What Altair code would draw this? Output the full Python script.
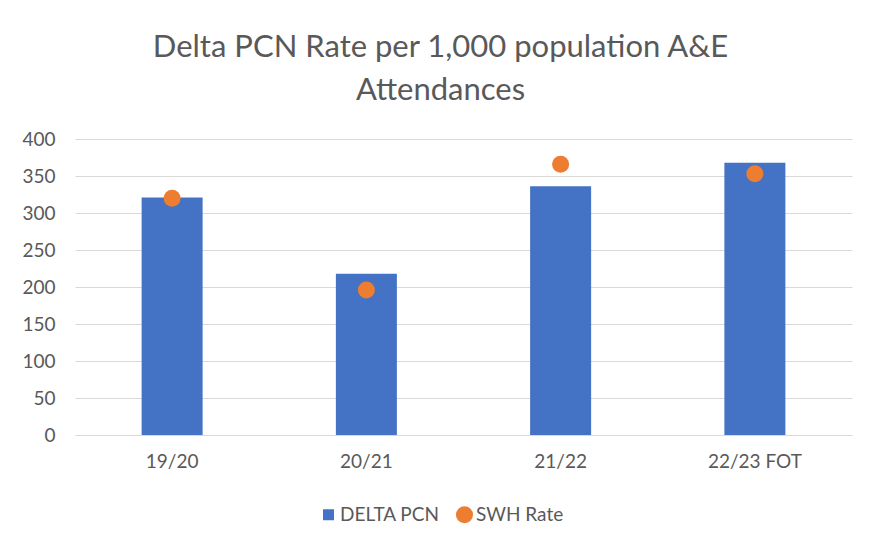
import altair as alt
import pandas as pd

categories = ["19/20", "20/21", "21/22", "22/23 FOT"]
delta_pcn = [321, 218, 336, 368]
swh_rate = [320, 196, 366, 353]
series = ["DELTA PCN", "SWH Rate"]

rows = []
for c, v in zip(categories, delta_pcn):
    rows.append({"period": c, "series": series[0], "value": v})
for c, v in zip(categories, swh_rate):
    rows.append({"period": c, "series": series[1], "value": v})
df = pd.DataFrame(rows)

FONT = "Lato"
GREY = "#595959"

color = alt.Color("series:N", title=None,
                  scale=alt.Scale(domain=series, range=["#4472C4", "#ED7D31"]),
                  legend=alt.Legend(orient="none", legendX=244, legendY=366,
                                    direction="horizontal", columnPadding=15,
                                    labelFontSize=19, labelColor=GREY, labelFont=FONT,
                                    symbolStrokeWidth=0, symbolOpacity=1, labelOffset=2))
shape = alt.Shape("series:N", title=None,
                  scale=alt.Scale(domain=series, range=["square", "circle"]))
size = alt.Size("series:N", title=None,
                scale=alt.Scale(domain=series, range=[121, 290]))

x = alt.X("period:N", sort=categories, title=None,
          scale=alt.Scale(paddingInner=0.686, paddingOuter=0.343),
          axis=alt.Axis(labelAngle=0, labelFontSize=19, labelColor=GREY, labelFont=FONT,
                        ticks=False, domain=True, domainColor="#D9D9D9", labelPadding=17))
y = alt.Y("value:Q", title=None,
          scale=alt.Scale(domain=[0, 400], nice=False),
          axis=alt.Axis(values=list(range(0, 401, 50)), labelFontSize=19, labelColor=GREY,
                        labelFont=FONT, ticks=False, domain=False, gridColor="#D9D9D9",
                        labelPadding=20))

bars = alt.Chart(df).transform_filter(alt.datum.series == series[0]).mark_bar(opacity=1).encode(
    x=x, y=y, color=color)
points = alt.Chart(df).transform_filter(alt.datum.series == series[1]).mark_point(
    filled=True, opacity=1).encode(x=x, y=y, color=color, shape=shape, size=size)

chart = alt.layer(bars, points).properties(
    width=777, height=296,
    autosize=alt.AutoSizeParams(type="none"),
    padding={"left": 67, "top": 131, "right": 10, "bottom": 100},
    title=alt.Title(["Delta PCN Rate per 1,000 population A&E", "Attendances"],
                    fontSize=31, font=FONT, color=GREY, fontWeight="normal",
                    anchor="middle", lineHeight=43, offset=23, dx=-23),
).configure(background="white").configure_view(stroke=None)

chart.save("out.html", embed_options={"renderer": "svg", "actions": False})
